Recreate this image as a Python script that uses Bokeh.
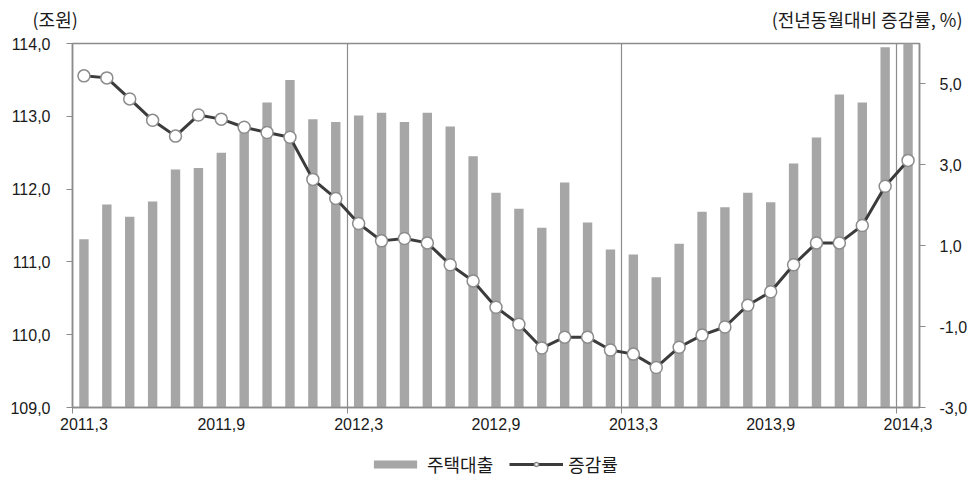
from bokeh.plotting import figure
from bokeh.layouts import column
from bokeh.models import (Range1d, LinearAxis, FixedTicker, Legend,
                          LegendItem, ColumnDataSource)
from bokeh.core.properties import value
from bokeh.embed import file_html
from bokeh.resources import INLINE

months = ["2011.3", "2011.4", "2011.5", "2011.6", "2011.7", "2011.8", "2011.9",
          "2011.10", "2011.11", "2011.12", "2012.1", "2012.2", "2012.3", "2012.4",
          "2012.5", "2012.6", "2012.7", "2012.8", "2012.9", "2012.10", "2012.11",
          "2012.12", "2013.1", "2013.2", "2013.3", "2013.4", "2013.5", "2013.6",
          "2013.7", "2013.8", "2013.9", "2013.10", "2013.11", "2013.12", "2014.1",
          "2014.2", "2014.3"]

# 주택대출 (조원)
loans = [111.31, 111.79, 111.62, 111.83, 112.27, 112.29, 112.50, 112.85, 113.19,
         113.50, 112.96, 112.92, 113.01, 113.05, 112.92, 113.05, 112.86, 112.45,
         111.95, 111.73, 111.47, 112.09, 111.54, 111.17, 111.10, 110.79, 111.25,
         111.69, 111.75, 111.95, 111.82, 112.35, 112.71, 113.30, 113.19, 113.95,
         114.30]

# 증감률 (전년동월대비, %)
growth = [5.20, 5.15, 4.63, 4.10, 3.71, 4.23, 4.13, 3.93, 3.80, 3.68, 2.64, 2.17,
          1.55, 1.12, 1.18, 1.07, 0.53, 0.13, -0.52, -0.94, -1.53, -1.26, -1.26,
          -1.58, -1.68, -2.01, -1.51, -1.21, -1.01, -0.47, -0.14, 0.53, 1.07, 1.07,
          1.50, 2.47, 3.11]

xtick_months = ["2011.3", "2011.9", "2012.3", "2012.9", "2013.3", "2013.9", "2014.3"]
xtick_labels = ["2011,3", "2011,9", "2012,3", "2012,9", "2013,3", "2013,9", "2014,3"]
year_marks = ["2012.3", "2013.3", "2014.3"]
left_ticks = [109, 110, 111, 112, 113, 114]
left_labels = ["109,0", "110,0", "111,0", "112,0", "113,0", "114,0"]
right_ticks = [-3, -1, 1, 3, 5]
right_labels = ["-3,0", "-1,0", "1,0", "3,0", "5,0"]
left_unit = "(조원)"
right_unit = "(전년동월대비 증감률, %)"
series_names = ["주택대출", "증감률"]

n = len(months)
xs = [i + 0.5 for i in range(n)]
src = ColumnDataSource(dict(x=xs, month=months, loans=loans, growth=growth))

GRAY = "#8c8c8c"
BAR = "#a6a6a6"
LINE = "#3c3c3c"
TXT = "#1a1a1a"
FONT = "Liberation Sans"
KFONT = "Noto Sans CJK KR"
W = 970

# ---------- header with unit labels ----------
head = figure(width=W, height=30, output_backend="svg", toolbar_location=None,
              x_range=Range1d(0, W), y_range=Range1d(0, 30),
              x_axis_type=None, y_axis_type=None, min_border=0,
              frame_align=False)
head.outline_line_color = None
head.grid.grid_line_color = None
head.text(x=[32], y=[12], text=[left_unit], text_align="left",
          text_baseline="middle", text_font=value(KFONT),
          text_font_size="18px", text_color=TXT)
head.text(x=[962], y=[12], text=[right_unit], text_align="right",
          text_baseline="middle", text_font=value(KFONT),
          text_font_size="18px", text_color=TXT)

# ---------- main chart ----------
p = figure(width=W, height=417, output_backend="svg", toolbar_location=None,
           x_range=Range1d(0, n), y_range=Range1d(109, 114),
           min_border_left=72, min_border_right=45, min_border_top=13,
           min_border_bottom=40, frame_align=False)
p.extra_y_ranges = {"pct": Range1d(-3, 6)}
p.outline_line_color = GRAY
p.outline_line_width = 1.5

bars = p.vbar(x="x", top="loans", bottom=109, width=0.41, source=src,
              fill_color=BAR, line_color=None)
p.line(x="x", y="growth", source=src, y_range_name="pct",
       line_color=LINE, line_width=3)
p.scatter(x="x", y="growth", source=src, y_range_name="pct",
          marker="circle", size=12, fill_color="white",
          line_color=GRAY, line_width=1.5)

xpos = [months.index(m) + 0.5 for m in xtick_months]
minor = [0] + [months.index(m) for m in year_marks]
xax = p.xaxis[0]
xax.ticker = FixedTicker(ticks=xpos, minor_ticks=minor)
xax.major_label_overrides = {xp: lab for xp, lab in zip(xpos, xtick_labels)}
xax.major_tick_out = 0
xax.major_tick_in = 0
xax.minor_tick_out = 6
xax.minor_tick_in = 0
xax.minor_tick_line_color = GRAY
xax.axis_line_color = GRAY
xax.axis_line_width = 1.5
xax.major_label_standoff = 4
xax.major_label_text_font = FONT
xax.major_label_text_font_size = "16px"
xax.major_label_text_color = TXT

yax = p.yaxis[0]
yax.ticker = FixedTicker(ticks=left_ticks)
yax.major_label_overrides = {t: lab for t, lab in zip(left_ticks, left_labels)}
yax.major_tick_out = 6
yax.major_tick_in = 0
yax.minor_tick_out = 0
yax.minor_tick_in = 0
yax.major_tick_line_color = GRAY
yax.axis_line_color = GRAY
yax.axis_line_width = 1.5
yax.major_label_standoff = 16
yax.major_label_text_font = FONT
yax.major_label_text_font_size = "16px"
yax.major_label_text_color = TXT

rax = LinearAxis(y_range_name="pct", ticker=FixedTicker(ticks=right_ticks))
rax.major_label_overrides = {t: lab for t, lab in zip(right_ticks, right_labels)}
rax.major_tick_out = 6
rax.major_tick_in = 0
rax.minor_tick_out = 0
rax.minor_tick_in = 0
rax.major_tick_line_color = GRAY
rax.axis_line_color = GRAY
rax.axis_line_width = 1.5
rax.major_label_standoff = 14
rax.major_label_text_font = FONT
rax.major_label_text_font_size = "16px"
rax.major_label_text_color = TXT
p.add_layout(rax, "right")

p.ygrid.grid_line_color = None
p.xgrid.ticker = FixedTicker(ticks=[months.index(m) for m in year_marks])
p.xgrid.grid_line_color = GRAY
p.xgrid.grid_line_width = 1.2

# ---------- footer with legend ----------
foot = figure(width=W, height=39, output_backend="svg", toolbar_location=None,
              x_range=Range1d(0, n), y_range=Range1d(200, 201),
              x_axis_type=None, y_axis_type=None, min_border=0,
              frame_align=False)
foot.outline_line_color = None
foot.grid.grid_line_color = None
lb = foot.vbar(x="x", top="loans", bottom=109, width=0.41, source=src,
               fill_color=BAR, line_color=None)
ll = foot.line(x="x", y="growth", source=src, line_color=LINE, line_width=3)
lc = foot.scatter(x="x", y="growth", source=src, marker="circle", size=10,
                  fill_color="white", line_color=GRAY, line_width=1.5)
legend = Legend(items=[LegendItem(label=series_names[0], renderers=[lb]),
                       LegendItem(label=series_names[1], renderers=[ll, lc])],
                orientation="horizontal", location=(368, 9),
                label_text_font=KFONT, label_text_font_size="18px",
                label_text_color=TXT, label_standoff=5,
                glyph_width=54, glyph_height=10, spacing=16, padding=0,
                margin=0, border_line_color=None, background_fill_alpha=0)
foot.add_layout(legend)

layout = column(head, p, foot, spacing=0)
open("out.html", "w").write(file_html(layout, INLINE))
